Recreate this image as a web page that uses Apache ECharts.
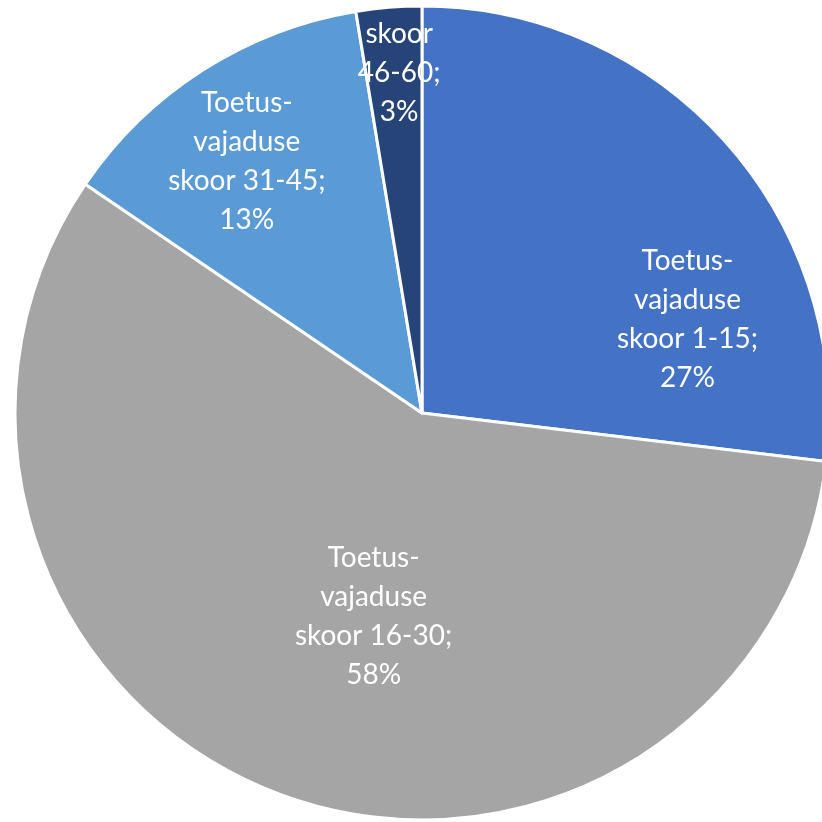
<!DOCTYPE html>
<html>
<head>
<meta charset="utf-8">
<script src="https://cdn.jsdelivr.net/npm/echarts@6/dist/echarts.min.js"></script>
<style>html,body{margin:0;padding:0;background:#fff;}#c{width:822px;height:822px;}</style>
</head>
<body>
<div id="c"></div>
<script>
var categories = ["Toetus-\nvajaduse\nskoor 1-15", "Toetus-\nvajaduse\nskoor 16-30", "Toetus-\nvajaduse\nskoor 31-45", "Toetus-\nvajaduse\nskoor\n46-60"];
var values = [26.9, 57.6, 12.9, 2.6];
var colors = ["#4472C4", "#A5A5A5", "#5B9BD5", "#264478"];
var labelShift = [[111, 44], [24, 10], [-64, -78], [-6, -173]];

var chart = echarts.init(document.getElementById('c'));
chart.setOption({
  animation: false,
  series: [{
    type: 'pie',
    center: [422, 413],
    radius: [0, 407],
    startAngle: 90,
    clockwise: true,
    avoidLabelOverlap: false,
    data: categories.map(function (n, i) {
      return { name: n, value: values[i], itemStyle: { color: colors[i] } };
    }),
    itemStyle: { borderColor: '#ffffff', borderWidth: 3 },
    label: {
      show: true,
      position: 'inside',
      color: '#ffffff',
      fontFamily: 'Lato',
      fontSize: 28,
      lineHeight: 39,
      align: 'center',
      formatter: function (p) { return p.name + ';\n' + Math.round(p.percent) + '%'; }
    },
    labelLine: { show: false },
    labelLayout: function (p) {
      var s = labelShift[p.dataIndex];
      return { dx: s[0], dy: s[1] };
    }
  }]
});
</script>
</body>
</html>
